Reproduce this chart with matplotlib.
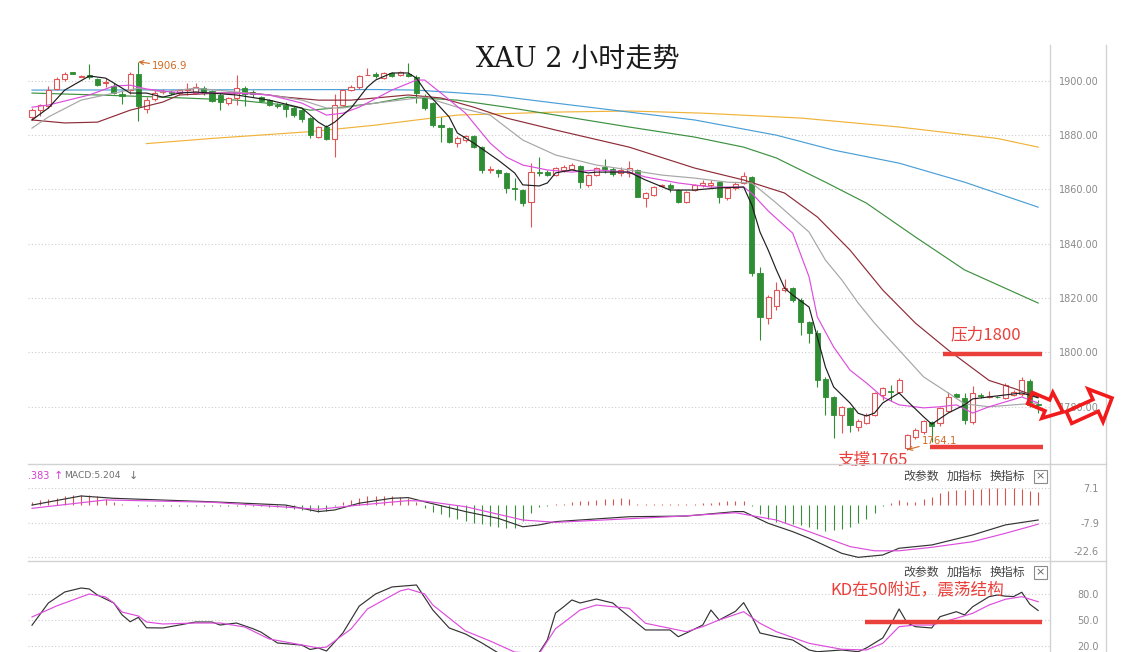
import numpy as np
import matplotlib
matplotlib.use("Agg")
import matplotlib.pyplot as plt
from matplotlib.lines import Line2D
from matplotlib.patches import Polygon, Rectangle
import matplotlib.transforms as mtrans

plt.rcParams['font.family'] = ['DejaVu Sans', 'Noto Sans CJK SC']

# ---------------- candle data (XAU, 2h) ----------------
opens = [1886.5, 1889.0, 1890.8, 1897.0, 1900.5, 1903.0, 1901.5, 1902.0, 1900.7, 1899.0,
         1898.0, 1895.0, 1896.5, 1902.5, 1889.5, 1893.2, 1895.8, 1895.8, 1895.3, 1896.5,
         1895.3, 1897.3, 1896.0, 1894.7, 1891.6, 1893.5, 1897.2, 1895.9, 1894.0, 1892.8,
         1891.0, 1891.0, 1889.8, 1889.0, 1886.1, 1879.3, 1883.0, 1878.5, 1891.0, 1896.5,
         1897.5, 1902.0, 1902.3, 1901.0, 1902.8, 1902.0, 1902.5, 1901.5, 1894.0, 1891.6,
         1883.5, 1882.5, 1877.0, 1878.1, 1879.5, 1875.6, 1867.0, 1867.0, 1866.0, 1860.5,
         1859.7, 1855.4, 1866.5, 1866.4, 1865.2, 1867.2, 1867.3, 1868.5, 1861.5, 1865.2,
         1868.0, 1867.3, 1866.0, 1866.0, 1867.0, 1856.6, 1857.9, 1861.3, 1861.5, 1859.7,
         1855.4, 1859.7, 1861.5, 1861.5, 1862.5, 1856.6, 1860.5, 1862.3, 1864.5, 1829.0,
         1812.5, 1817.0, 1822.8, 1823.5, 1819.2, 1811.2, 1807.0, 1790.0, 1783.6, 1776.9,
         1779.5, 1772.6, 1773.8, 1776.9, 1784.3, 1785.8, 1785.5, 1764.6, 1768.9, 1770.7,
         1774.2, 1773.8, 1778.5, 1784.5, 1783.0, 1774.4, 1784.2, 1783.5, 1783.6, 1783.2,
         1784.3, 1784.5, 1789.5, 1781.0]
highs = [1890.0, 1891.5, 1898.0, 1901.5, 1903.0, 1903.3, 1902.2, 1906.0, 1901.0, 1901.0,
         1899.0, 1896.5, 1903.2, 1906.9, 1894.0, 1896.5, 1896.8, 1896.5, 1897.0, 1899.0,
         1899.0, 1898.0, 1896.5, 1895.5, 1894.0, 1902.0, 1898.0, 1896.5, 1894.5, 1893.3,
         1891.8, 1892.2, 1890.5, 1890.0, 1886.5, 1883.2, 1883.5, 1895.0, 1897.0, 1898.5,
         1902.0, 1904.5, 1903.0, 1903.2, 1903.0, 1903.4, 1906.3, 1902.0, 1895.0, 1892.0,
         1886.7, 1883.0, 1879.5, 1880.0, 1880.0, 1876.0, 1868.5, 1867.5, 1866.5, 1864.0,
         1860.0, 1869.5, 1872.0, 1867.0, 1868.0, 1868.8, 1869.5, 1869.0, 1865.5, 1868.0,
         1871.3, 1868.0, 1868.0, 1870.5, 1867.5, 1859.0, 1861.3, 1862.0, 1862.3, 1860.0,
         1859.5, 1862.0, 1863.3, 1863.5, 1863.0, 1861.0, 1862.5, 1866.5, 1865.0, 1831.5,
         1821.0, 1826.0, 1827.0, 1824.0, 1820.0, 1811.5, 1808.0, 1791.0, 1784.0, 1780.3,
         1780.0, 1775.5, 1777.5, 1785.5, 1787.2, 1787.8, 1790.4, 1770.0, 1772.0, 1775.0,
         1774.5, 1780.0, 1785.5, 1785.0, 1785.0, 1787.5, 1785.0, 1785.8, 1784.0, 1788.5,
         1786.0, 1790.7, 1790.0, 1782.3]
lows = [1885.5, 1887.0, 1890.0, 1896.5, 1900.0, 1902.3, 1901.2, 1900.5, 1898.0, 1897.5,
        1895.0, 1891.5, 1895.0, 1885.0, 1888.0, 1892.5, 1895.0, 1894.8, 1894.8, 1894.8,
        1895.0, 1894.8, 1892.0, 1889.0, 1891.0, 1891.0, 1890.5, 1894.0, 1892.0, 1890.5,
        1889.8, 1886.7, 1886.5, 1884.8, 1878.7, 1879.0, 1878.0, 1872.0, 1890.5, 1896.0,
        1897.0, 1902.0, 1901.0, 1900.7, 1901.5, 1901.8, 1901.5, 1891.8, 1889.0, 1883.0,
        1877.5, 1877.0, 1875.5, 1877.5, 1875.0, 1865.8, 1866.0, 1864.5, 1858.5, 1856.0,
        1854.0, 1846.2, 1865.0, 1864.8, 1865.0, 1866.5, 1867.0, 1860.3, 1861.0, 1865.0,
        1866.0, 1865.0, 1865.0, 1864.5, 1857.0, 1853.5, 1857.5, 1860.8, 1859.0, 1855.0,
        1855.0, 1859.3, 1861.0, 1861.0, 1854.8, 1856.0, 1859.7, 1862.0, 1828.0, 1804.5,
        1810.5, 1815.5, 1822.0, 1818.5, 1806.3, 1803.5, 1787.3, 1777.0, 1768.3, 1770.3,
        1770.5, 1771.0, 1773.5, 1776.5, 1782.4, 1782.0, 1785.0, 1764.1, 1768.0, 1770.0,
        1766.8, 1773.0, 1778.0, 1783.0, 1773.5, 1773.5, 1783.0, 1783.2, 1783.0, 1782.8,
        1784.0, 1784.0, 1780.0, 1777.5]
closes = [1889.0, 1891.0, 1896.7, 1900.5, 1902.5, 1902.5, 1901.8, 1901.5, 1898.2, 1899.3,
          1895.3, 1894.5, 1902.5, 1890.5, 1893.0, 1895.5, 1896.2, 1895.5, 1896.5, 1897.0,
          1897.7, 1895.3, 1892.5, 1892.2, 1893.5, 1897.2, 1895.2, 1895.0, 1892.5, 1891.0,
          1890.7, 1889.5, 1887.5, 1886.0, 1880.0, 1882.8, 1878.5, 1891.0, 1896.5, 1897.8,
          1901.7, 1902.2, 1901.8, 1902.8, 1901.8, 1903.0, 1901.8, 1895.3, 1889.8, 1883.6,
          1883.0, 1877.5, 1878.7, 1879.5, 1875.6, 1867.0, 1867.5, 1865.8, 1860.3, 1860.0,
          1854.8, 1866.4, 1866.0, 1865.2, 1867.7, 1868.0, 1868.9, 1862.8, 1865.2, 1867.7,
          1867.5, 1865.5, 1867.0, 1867.7, 1857.2, 1858.5, 1860.9, 1861.6, 1860.5, 1855.4,
          1859.1, 1861.5, 1862.3, 1862.3, 1857.2, 1860.5, 1862.0, 1865.0, 1829.0, 1813.0,
          1820.5, 1823.0, 1823.8, 1819.2, 1811.2, 1807.0, 1789.8, 1783.6, 1776.9, 1779.8,
          1773.3, 1774.5, 1777.0, 1785.0, 1786.7, 1785.3, 1789.8, 1769.6, 1771.3, 1774.5,
          1773.0, 1779.4, 1783.6, 1783.5, 1775.0, 1785.0, 1783.7, 1784.0, 1783.4, 1788.0,
          1785.5, 1789.8, 1780.6, 1780.5]

price_ticks = [1780, 1800, 1820, 1840, 1860, 1880, 1900]
price_labels = ['1780.00', '1800.00', '1820.00', '1840.00', '1860.00', '1880.00', '1900.00']

# ---------------- moving averages ----------------
ma5_x = [0, 2, 4, 7, 9, 10, 12, 14, 16, 18, 20, 25, 29, 33, 35, 36, 37, 39, 41, 42, 44, 46, 47, 48,
         51, 52, 54, 57, 59, 60, 62, 63, 64, 66, 68, 69, 73, 75, 78, 81, 84, 87, 88, 89, 90, 91,
         92, 93, 95, 96, 97, 98, 100, 101, 102, 103, 104, 106, 107, 109, 110, 112, 114, 115, 118,
         121, 123]
ma5_y = [1885.5, 1889.9, 1896.5, 1901.7, 1900.9, 1899.1, 1895.4, 1895.4, 1893.9, 1895.4, 1895.8,
         1894.7, 1892.8, 1889.9, 1884.7, 1882.9, 1884.7, 1889.9, 1897.6, 1900.2, 1902.8, 1902.8,
         1900.9, 1896.5, 1886.6, 1880.7, 1877.0, 1870.7, 1866.0, 1861.6, 1861.2, 1862.3, 1866.0,
         1867.1, 1866.0, 1866.3, 1866.3, 1863.4, 1859.7, 1859.7, 1860.5, 1860.8, 1854.2, 1844.2,
         1837.6, 1830.3, 1823.6, 1821.0, 1816.6, 1805.6, 1794.5, 1787.2, 1781.3, 1777.5, 1776.5,
         1777.6, 1781.3, 1785.0, 1782.0, 1776.2, 1773.5, 1777.6, 1780.6, 1782.8, 1783.9, 1785.0,
         1783.2]
ma10_x = [0, 2, 7, 10, 12, 14, 17, 21, 25, 29, 33, 36, 38, 40, 44, 47, 48, 50, 53, 56, 58, 60, 63,
          66, 69, 73, 75, 79, 83, 87, 88, 90, 93, 95, 96, 98, 100, 102, 104, 106, 109, 111, 113,
          115, 117, 119, 121, 123]
ma10_y = [1890.2, 1891.0, 1894.7, 1898.0, 1898.3, 1896.9, 1895.8, 1895.4, 1895.4, 1894.7, 1891.7,
          1887.3, 1888.0, 1890.2, 1896.5, 1900.2, 1900.2, 1895.4, 1888.0, 1877.0, 1871.8, 1868.9,
          1867.1, 1866.3, 1867.1, 1866.3, 1864.5, 1862.3, 1860.8, 1860.8, 1858.5, 1852.0, 1843.8,
          1827.7, 1813.0, 1801.9, 1793.4, 1788.7, 1783.5, 1780.6, 1779.5, 1779.9, 1780.6, 1777.6,
          1779.9, 1781.7, 1783.5, 1781.3]
ma20_x = [0, 2, 6, 10, 13, 16, 20, 25, 29, 33, 36, 38, 42, 48, 52, 56, 60, 64, 69, 73, 77, 81, 85,
          88, 91, 95, 97, 99, 101, 103, 106, 109, 112, 114, 117, 120, 123]
ma20_y = [1882.5, 1886.6, 1892.8, 1895.4, 1897.2, 1895.8, 1897.2, 1895.8, 1894.7, 1892.8, 1889.9,
          1889.9, 1891.7, 1893.9, 1890.2, 1887.3, 1878.1, 1872.6, 1868.9, 1867.1, 1865.2, 1864.1,
          1862.6, 1862.3, 1854.9, 1844.2, 1833.9, 1826.6, 1818.1, 1810.7, 1800.8, 1790.9, 1785.0,
          1781.0, 1779.9, 1780.6, 1781.3]
ma30_x = [0, 4, 8, 12, 16, 18, 23, 27, 31, 35, 39, 42, 46, 50, 54, 58, 64, 73, 81, 87, 92, 96, 100,
          104, 108, 112, 117, 120, 123]
ma30_y = [1885.5, 1884.4, 1884.7, 1889.1, 1892.1, 1894.7, 1895.4, 1895.4, 1893.9, 1892.8, 1892.8,
          1893.6, 1894.7, 1893.6, 1890.2, 1886.2, 1881.8, 1875.5, 1867.8, 1863.4, 1858.6, 1849.8,
          1837.6, 1822.9, 1810.7, 1800.8, 1789.6, 1786.7, 1783.5]
ma60_x = [0, 8, 16, 25, 31, 34, 37, 42, 46, 52, 58, 64, 73, 81, 87, 91, 97, 102, 108, 114, 123]
ma60_y = [1895.4, 1894.7, 1893.9, 1892.8, 1891.0, 1889.1, 1889.9, 1891.7, 1893.9, 1892.8, 1890.2,
          1887.3, 1882.9, 1879.2, 1875.5, 1871.5, 1862.6, 1854.9, 1842.4, 1830.3, 1818.1]
ma120_x = [0, 42, 47, 56, 64, 73, 81, 91, 98, 106, 114, 123]
ma120_y = [1896.5, 1896.7, 1896.5, 1894.7, 1891.7, 1888.4, 1885.5, 1879.9, 1874.4, 1869.6, 1862.6,
           1853.4]
ma250_x = [14, 22, 34, 42, 47, 52, 64, 73, 82, 94, 106, 118, 123]
ma250_y = [1876.8, 1878.7, 1881.2, 1883.6, 1885.5, 1887.3, 1888.4, 1888.8, 1888.0, 1886.2, 1882.9,
           1878.7, 1875.5]

# ---------------- MACD ----------------
macd_hist = [1.2, 1.8, 2.5, 3.0, 3.6, 4.0, 4.3, 4.2, 3.6, 2.4, 0.9, 0.3,
             -0.3, -0.5, -0.6, -0.6, -0.7, -0.7, -0.6, -0.6, -0.5, -0.6, -0.7, -0.8, -0.8,
             -0.6, -0.6, -0.7, -0.8, -1.0, -1.2, -1.4, -1.8, -2.3, -2.9, -3.0, -2.6, -0.8,
             1.0, 2.0, 3.0, 3.5, 3.7, 3.8, 3.6, 3.4, 2.8, 1.2,
             -1.5, -3.0, -4.2, -5.2, -6.2, -7.0, -7.8, -8.5, -9.0, -9.6, -10.2, -10.0, -7.0,
             -3.5, -1.2, -0.6,
             0.2, 0.3, 1.2, 1.4, 1.6, 2.0, 2.4, 2.4, 2.9, 2.4, 0.3, 0.3, 0.2, 0.2, 0.2, 0.1,
             0.2, 0.3, 0.5, 0.7, 1.2, 1.4, 1.5, 1.5,
             -0.8, -4.0, -6.2, -7.5, -8.0, -8.2, -8.8, -9.6, -10.4, -11.2, -10.8, -10.6, -9.8,
             -8.0, -6.0, -3.5, -0.5,
             0.8, 2.0, 1.2, 1.3, 2.2, 3.2, 5.0, 5.7, 6.2, 6.4, 6.5, 6.8, 7.1, 7.1, 7.1, 6.9,
             6.6, 6.0, 5.5]
dif_x = [0, 6, 10, 22, 31, 35, 37, 40, 44, 46, 48, 53, 57, 60, 62, 64, 73, 80, 86, 87, 90, 93, 95,
         99, 101, 104, 106, 110, 115, 119, 123]
dif_y = [-0.2, 3.7, 2.7, 1.2, -0.2, -3.0, -2.3, 0.6, 2.7, 3.0, 1.2, -3.0, -5.9, -9.5, -8.7, -7.3,
         -5.2, -4.9, -3.0, -3.0, -8.0, -11.6, -14.4, -20.9, -22.6, -21.6, -18.7, -17.3, -13.0,
         -8.7, -6.6]
dea_x = [0, 9, 22, 35, 40, 46, 48, 53, 60, 64, 78, 86, 91, 95, 100, 103, 106, 110, 115, 119, 123]
dea_y = [-1.6, 2.0, 1.0, -2.0, -0.2, 1.7, 1.5, -0.9, -6.6, -7.6, -5.2, -3.5, -6.6, -11.6, -18.0,
         -19.8, -19.8, -18.3, -15.9, -12.3, -8.4]
macd_ticks = [7.1, -7.9, -22.6]
macd_labels = ['7.1', '-7.9', '-22.6']

# ---------------- KD ----------------
k_x = [0, 2, 4, 6, 7, 8, 10, 11, 12, 13, 14, 16, 18, 20, 22, 23, 25, 27, 28, 30, 33, 34, 35, 36, 38,
       40, 42, 44, 47, 49, 51, 53, 55, 57, 58, 60, 61, 62, 63, 64, 65, 66, 67, 69, 71, 72, 75, 78,
       79, 80, 82, 83, 84, 85, 86, 87, 88, 89, 91, 93, 95, 96, 99, 101, 102, 104, 105, 106, 107,
       108, 110, 111, 113, 114, 115, 117, 118, 119, 120, 121, 122, 123]
k_y = [44.0, 69.6, 82.3, 86.9, 85.8, 78.8, 69.6, 56.0, 48.0, 53.0, 41.0, 40.8, 44.2, 47.7, 47.7,
       44.2, 46.5, 40.0, 36.0, 23.5, 21.0, 16.0, 17.7, 14.2, 35.0, 66.0, 80.0, 88.1, 90.4, 61.5,
       40.8, 33.8, 23.5, 12.0, 8.0, 6.0, 8.0, 12.5, 27.0, 58.0, 65.3, 73.1, 69.6, 74.2, 69.6, 61.5,
       38.5, 38.5, 30.7, 35.0, 44.2, 61.5, 50.0, 55.0, 60.0, 70.0, 53.8, 35.0, 30.7, 26.9, 15.4,
       13.4, 15.4, 13.4, 17.7, 29.2, 45.0, 62.7, 46.5, 42.3, 40.8, 53.8, 59.6, 55.8, 65.3, 76.9,
       78.8, 77.5, 77.0, 82.0, 68.0, 61.0]
d_x = [0, 3, 7, 9, 10, 11, 13, 14, 16, 20, 23, 26, 29, 33, 35, 36, 39, 41, 45, 46, 48, 49, 53, 56,
       59, 62, 64, 65, 67, 69, 71, 73, 75, 78, 80, 82, 84, 87, 89, 91, 95, 99, 102, 104, 106, 108,
       110, 113, 115, 117, 119, 121, 123]
d_y = [53.5, 66.2, 80.0, 76.5, 69.6, 59.2, 54.6, 47.7, 45.4, 46.5, 46.5, 41.9, 28.1, 21.2, 17.7,
       18.8, 39.6, 62.7, 83.5, 85.8, 80.0, 67.3, 37.3, 25.8, 13.0, 11.0, 40.0, 47.0, 61.5, 67.3,
       65.3, 63.5, 46.2, 40.4, 36.5, 42.3, 50.0, 59.6, 46.2, 36.5, 23.1, 16.2, 15.4, 23.1, 42.3,
       44.2, 44.2, 52.0, 57.7, 67.3, 73.9, 76.9, 71.1]
kd_ticks = [80, 50, 20]
kd_labels = ['80.0', '50.0', '20.0']

# ---------------- annotations ----------------
high_mark = (13, 1906.9)
low_mark = (107, 1764.1)
resist_level, resist_from, resist_to = 1799.3, 111.4, 123.5
support_level, support_from, support_to = 1765.0, 109.8, 123.6
kd_level, kd_from, kd_to = 48.0, 101.8, 123.5

# ---------------- styling ----------------
W, H = 1121, 652
RED = '#e05656'
GREEN = '#2f8d34'
ANN = '#ea3f3a'
ORANGE_TXT = '#cf6a22'
CJK = ['Noto Sans CJK SC', 'DejaVu Sans']

fig = plt.figure(figsize=(W / 100, H / 100), dpi=100)
fig.patch.set_facecolor('white')


def fx(px):
    return px / W


def fy(py):
    return 1 - py / H


L, R = 28, 1050
XL, XR = -0.49, 124.45
ax = fig.add_axes([fx(L), fy(463), fx(R) - fx(L), (463 - 45) / H])
axm = fig.add_axes([fx(L), fy(561), fx(R) - fx(L), (561 - 465) / H])
axk = fig.add_axes([fx(L), fy(652), fx(R) - fx(L), (652 - 562) / H])


def style(a, ticks, labels, ylim):
    a.set_xlim(XL, XR)
    a.set_ylim(*ylim)
    a.set_xticks([])
    a.yaxis.tick_right()
    a.set_yticks(ticks)
    a.set_yticklabels(labels)
    a.tick_params(axis='y', length=0, pad=49 * 0.72, labelsize=7, labelcolor='#8a8a8a')
    for t in a.get_yticklabels():
        t.set_horizontalalignment('right')
    for s in a.spines.values():
        s.set_visible(False)
    for v in ticks:
        a.axhline(v, color='#cdcdcd', lw=0.8, ls=(0, (1, 2)), zorder=0)
    a.set_facecolor('none')


style(ax, price_ticks, price_labels, (1759.2, 1913.1))
style(axm, macd_ticks, macd_labels, (-24.17, 16.97))
style(axk, kd_ticks, kd_labels, (13.08, 116.9))
# nudge lowest MACD label upward like the original
lab = axm.get_yticklabels()[-1]
lab.set_transform(lab.get_transform() + mtrans.ScaledTranslation(0, 6 / 100, fig.dpi_scale_trans))

# ---------------- candles ----------------
o = np.array(opens); h = np.array(highs); l = np.array(lows); c = np.array(closes)
idx = np.arange(len(o))
up = c >= o
lo = np.minimum(o, c); hi = np.maximum(o, c)
ht = np.maximum(hi - lo, 0.15)
ax.vlines(idx[up], l[up], lo[up], color=RED, lw=0.8, zorder=3)
ax.vlines(idx[up], hi[up], h[up], color=RED, lw=0.8, zorder=3)
ax.vlines(idx[~up], l[~up], h[~up], color=GREEN, lw=0.8, zorder=3)
ax.bar(idx[up], ht[up], bottom=lo[up], width=0.62, facecolor='white', edgecolor=RED,
       linewidth=0.8, zorder=4)
ax.bar(idx[~up], ht[~up], bottom=lo[~up], width=0.62, facecolor=GREEN, edgecolor=GREEN,
       linewidth=0.6, zorder=4)

# ---------------- moving averages ----------------
lw = 0.85
ax.plot(ma250_x, ma250_y, color='#f0b33a', lw=lw, zorder=2)
ax.plot(ma120_x, ma120_y, color='#4a9fd6', lw=lw, zorder=2)
ax.plot(ma60_x, ma60_y, color='#3d9140', lw=lw, zorder=2)
ax.plot(ma30_x, ma30_y, color='#8e2c38', lw=lw, zorder=5)
ax.plot(ma20_x, ma20_y, color='#a6a6a6', lw=lw, zorder=5)
ax.plot(ma10_x, ma10_y, color='#dd4ddd', lw=lw, zorder=5)
ax.plot(ma5_x, ma5_y, color='#1e1e1e', lw=lw, zorder=6)

# ---------------- price annotations ----------------
ax.annotate(f'{high_mark[1]:.1f}', xy=high_mark, xytext=(high_mark[0] + 1.7, high_mark[1] - 1.6),
            ha='left', va='center', fontsize=7.3, color=ORANGE_TXT,
            arrowprops=dict(arrowstyle='->', color=ORANGE_TXT, lw=0.8, shrinkA=0, shrinkB=0),
            zorder=7)
ax.annotate(f'{low_mark[1]:.1f}', xy=low_mark, xytext=(low_mark[0] + 1.8, low_mark[1] + 3.2),
            ha='left', va='center', fontsize=7.3, color=ORANGE_TXT,
            arrowprops=dict(arrowstyle='->', color=ORANGE_TXT, lw=0.8, shrinkA=0, shrinkB=0),
            zorder=7)

ax.hlines(resist_level, resist_from, resist_to, color=ANN, lw=3.2, zorder=8, clip_on=False)
ax.hlines(support_level, support_from, support_to, color=ANN, lw=3.2, zorder=8, clip_on=False)
ax.text((resist_from + resist_to) / 2 - 0.9, resist_level + 7.0, '压力1800', color=ANN,
        fontsize=12, family=CJK, ha='center', va='center', zorder=8)
ax.text(102.7, support_level - 5.0, '支撑1765', color=ANN, fontsize=12, family=CJK,
        ha='center', va='center', zorder=8, clip_on=False)

# ---------------- MACD panel ----------------
hist = np.array(macd_hist)
axm.vlines(idx, 0, hist, colors=np.where(hist > 0, '#d9544f', '#3a8f3a'), lw=0.8, zorder=2)
axm.plot(dif_x, dif_y, color='#333333', lw=lw, zorder=3)
axm.plot(dea_x, dea_y, color='#dd4ddd', lw=lw, zorder=3)

# ---------------- KD panel ----------------
axk.plot(k_x, k_y, color='#333333', lw=lw, zorder=3)
axk.plot(d_x, d_y, color='#dd4ddd', lw=lw, zorder=3)
axk.hlines(kd_level, kd_from, kd_to, color=ANN, lw=3.2, zorder=8, clip_on=False)
axk.text(108.2, 85.5, 'KD在50附近，震荡结构', color=ANN, fontsize=12, family=CJK,
         ha='center', va='center', zorder=8)

# ---------------- frame lines ----------------
gray = '#d2d2d2'
for xs, ys in [([1050, 1050], [45, 652]), ([1106, 1106], [45, 652]),
               ([28, 1106], [464, 464]), ([28, 1106], [561, 561])]:
    fig.add_artist(Line2D([fx(v) for v in xs], [fy(v) for v in ys], color=gray, lw=1.0,
                          transform=fig.transFigure))

# ---------------- header texts ----------------
fig.text(fx(578), fy(60), 'XAU 2 小时走势', ha='center', va='center', fontsize=19.5,
         family=['DejaVu Serif', 'Noto Sans CJK SC'], color='#1a1a1a')

fig.text(fx(28), fy(476), '.383', ha='left', va='center', fontsize=7, color='#d43fd4')
fig.text(fx(58), fy(476), '↑', ha='center', va='center', fontsize=8, color='#d43fd4')
fig.text(fx(64), fy(476), 'MACD:5.204', ha='left', va='center', fontsize=6.6, color='#6f6f6f')
fig.text(fx(133), fy(476), '↓', ha='center', va='center', fontsize=8, color='#6f6f6f')

for yy in (476, 572):
    for xx, t in [(903, '改参数'), (947, '加指标'), (990, '换指标')]:
        fig.text(fx(xx), fy(yy), t, ha='left', va='center', fontsize=8.6, family=CJK,
                 color='#444444')
    fig.add_artist(Rectangle((fx(1034), fy(yy + 6.5)), fx(13), 13 / H, transform=fig.transFigure,
                             facecolor='white', edgecolor='#8a8a8a', lw=0.8))
    fig.text(fx(1040.5), fy(yy), '×', ha='center', va='center', fontsize=8, color='#666666')


# ---------------- hollow arrows ----------------
def block_arrow(tail, tip, shaft_w, head_w, head_l):
    tx, ty = tail
    hx, hy = tip
    dx, dy = hx - tx, hy - ty
    n = np.hypot(dx, dy)
    ux, uy = dx / n, dy / n
    nx, ny = -uy, ux
    bx, by = hx - ux * head_l, hy - uy * head_l
    pts = [(tx + nx * shaft_w / 2, ty + ny * shaft_w / 2),
           (bx + nx * shaft_w / 2, by + ny * shaft_w / 2),
           (bx + nx * head_w / 2, by + ny * head_w / 2),
           (hx, hy),
           (bx - nx * head_w / 2, by - ny * head_w / 2),
           (bx - nx * shaft_w / 2, by - ny * shaft_w / 2),
           (tx - nx * shaft_w / 2, ty - ny * shaft_w / 2)]
    return [(fx(x), fy(y)) for x, y in pts]


for tail, tip, sw, hw, hl in [((1030, 398), (1063, 412), 12, 28, 17),
                              ((1069, 417.5), (1112, 398), 13, 36, 18)]:
    fig.add_artist(Polygon(block_arrow(tail, tip, sw, hw, hl), closed=True, facecolor='none',
                           edgecolor='#f21b1b', lw=2.6, joinstyle='miter',
                           transform=fig.transFigure, zorder=20))

fig.savefig('out.png', dpi=100, facecolor='white')
